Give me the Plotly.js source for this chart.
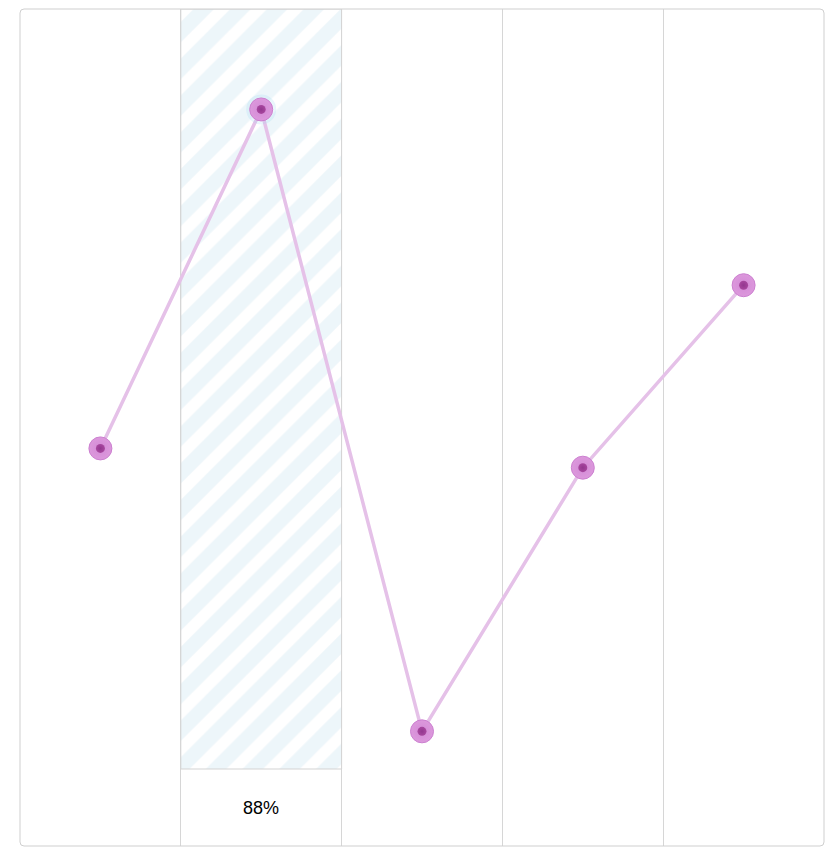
<!DOCTYPE html>
<html><head><meta charset="utf-8">
<script src="https://cdn.plot.ly/plotly-3.0.1.min.js"></script>
<style>html,body{margin:0;padding:0;background:#fff;}#chart{width:836px;height:866px;}</style>
</head><body><div id="chart"></div>
<script>
const positions = [0, 1, 2, 3, 4];
const values = [47.5, 88, 13.7, 45.2, 67];
const highlightIndex = 1;
const highlightLabel = "88%";
const bandBase = 9.2;
const bandTop = 100;

const traces = [
  {
    type: 'bar', x: [positions[highlightIndex]], y: [bandTop - bandBase], base: [bandBase],
    width: 1, hoverinfo: 'skip',
    marker: {color: '#ffffff', line: {color: '#d3d3d3', width: 1},
      pattern: {shape: '/', fgcolor: '#edf6fa', bgcolor: '#ffffff', size: 26, solidity: 0.55}}
  },
  {
    type: 'scatter', mode: 'lines', x: positions, y: values,
    line: {color: '#e5c1e8', width: 3.5}, hoverinfo: 'skip'
  },
  {
    type: 'scatter', mode: 'markers', x: [positions[highlightIndex]], y: [values[highlightIndex]],
    marker: {size: 30, color: 'rgba(160,215,240,0.25)', line: {width: 0},
      gradient: {type: 'radial', color: 'rgba(160,215,240,0)'}}, hoverinfo: 'skip'
  },
  {
    type: 'scatter', mode: 'markers', x: positions, y: values,
    marker: {size: 23, color: '#dc98dc', line: {color: '#cc80d0', width: 1},
      gradient: {type: 'radial', color: '#d38ad6'}}
  },
  {
    type: 'scatter', mode: 'markers', x: positions, y: values,
    marker: {size: 9, color: '#a8479f', line: {width: 0},
      gradient: {type: 'radial', color: '#93378f'}}
  }
];

const rx = 4 / 804, ry = 4 / 837;
const borderPath = `M ${rx},0 L ${1 - rx},0 Q 1,0 1,${ry} L 1,${1 - ry} Q 1,1 ${1 - rx},1 L ${rx},1 Q 0,1 0,${1 - ry} L 0,${ry} Q 0,0 ${rx},0 Z`;

const layout = {
  width: 836, height: 866,
  margin: {l: 20, r: 12, t: 9, b: 20},
  paper_bgcolor: '#ffffff', plot_bgcolor: '#ffffff',
  showlegend: false,
  xaxis: {range: [-0.5, 4.5], tickvals: [0.5, 1.5, 2.5, 3.5], showticklabels: false,
    showgrid: true, gridcolor: '#d6d6d6', gridwidth: 1, zeroline: false, ticks: ''},
  yaxis: {range: [0, 100], showgrid: false, showticklabels: false, zeroline: false, ticks: ''},
  shapes: [{type: 'path', xref: 'paper', yref: 'paper', path: borderPath,
    line: {color: '#cfcfcf', width: 1}}],
  annotations: [{x: positions[highlightIndex], y: 4.6, text: highlightLabel, showarrow: false,
    font: {family: 'Liberation Sans, Arial, sans-serif', size: 18, color: '#000'}}]
};
Plotly.newPlot('chart', traces, layout, {displayModeBar: false, staticPlot: true});
</script></body></html>
